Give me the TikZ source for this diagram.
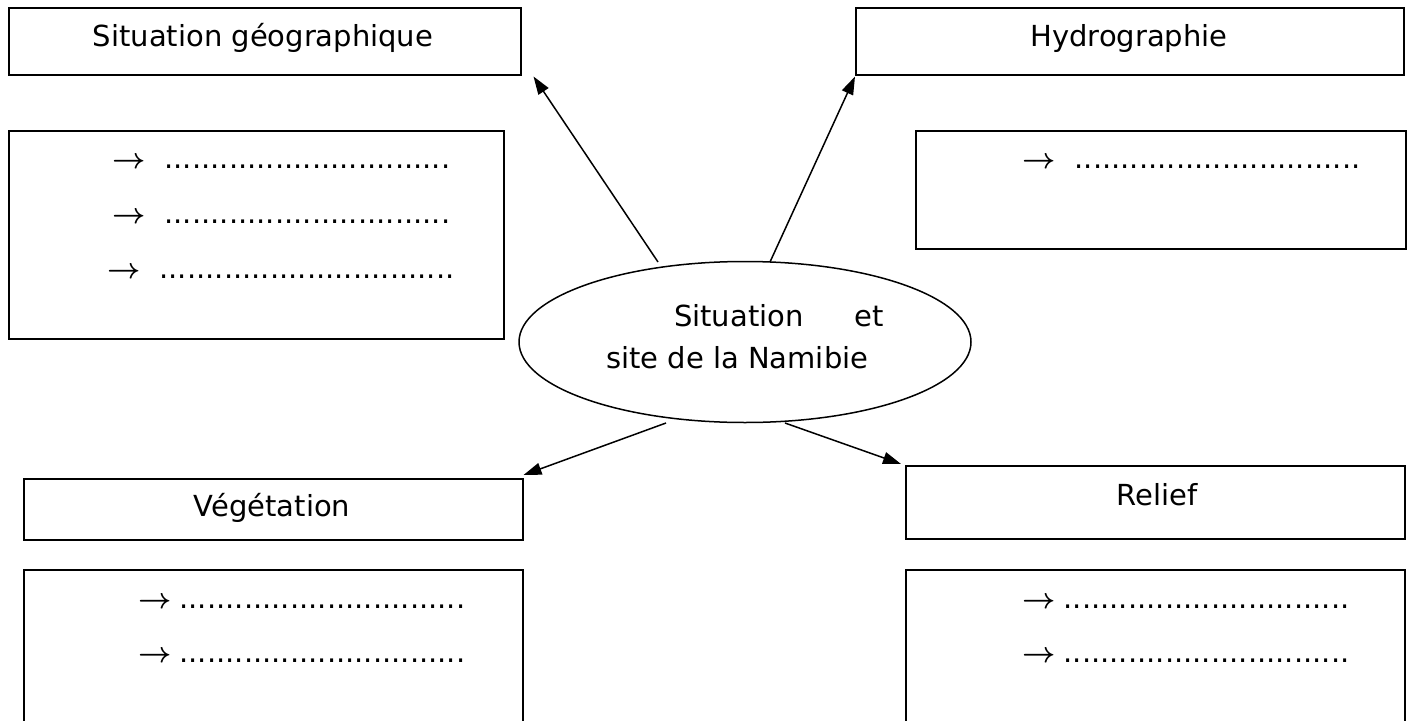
\RequirePackage{fix-cm}
\documentclass[tikz,border=0pt]{standalone}
\usepackage{fontspec}
\setmainfont{DejaVu Sans}
\usetikzlibrary{shapes.geometric,arrows.meta}
\newcommand{\dotrow}[1]{\foreach \k in {1,...,#1}{.}}
\newcommand{\itemarrow}{{\boldmath$\rightarrow$}}
\begin{document}
\begin{tikzpicture}[x=1pt,y=-1pt,
  box/.style={draw,line width=1.5pt,rectangle,inner sep=0pt,anchor=north west},
  lbl/.style={font=\fontsize{29}{42}\selectfont,inner sep=0pt},
  item/.style={font=\fontsize{29}{42}\selectfont,inner sep=0pt,anchor=west},
  arr/.style={line width=1.5pt,-{Triangle[length=18pt,width=12pt]}}]
\useasboundingbox (0,0) rectangle (1415,720);
\clip (0,0) rectangle (1415,720);
% boxes
\node[box,minimum width=512pt,minimum height=67pt] (geo) at (8,7) {};
\node[box,minimum width=548pt,minimum height=67pt] (hyd) at (855,7) {};
\node[box,minimum width=495pt,minimum height=208pt] (geol) at (8,130) {};
\node[box,minimum width=490pt,minimum height=118pt] (hydl) at (915,130) {};
\node[box,minimum width=499pt,minimum height=61pt] (veg) at (23,478) {};
\node[box,minimum width=499pt,minimum height=73pt] (rel) at (905,465) {};
\node[box,minimum width=499pt,minimum height=170pt] (vegl) at (23,569) {};
\node[box,minimum width=499pt,minimum height=170pt] (rell) at (905,569) {};
% titles
\node[lbl] (geot) at (263,38) {Situation géographique};
\node[lbl] (hydt) at (1129,38) {Hydrographie};
\node[lbl] (vegt) at (272,508) {Végétation};
\node[lbl] (relt) at (1157,495) {Relief};
% ellipse
\node[draw,ellipse,line width=1.5pt,minimum width=452pt,minimum height=161pt,inner sep=0pt] (c) at (745,342) {};
\node[lbl,align=left] (ct) at (745,337) {\hspace*{68pt}Situation\hspace{51pt}et\\site de la Namibie};
% list items
\node[item] (g1) at (112,163) {\itemarrow\hspace{19pt}\dotrow{31}};
\node[item] (g2) at (112,218) {\itemarrow\hspace{19pt}\dotrow{31}};
\node[item] (g3) at (107,273) {\itemarrow\hspace{19pt}\dotrow{32}};
\node[item] (h1) at (1022,163) {\itemarrow\hspace{19pt}\dotrow{31}};
\node[item] (v1) at (138,603) {\itemarrow\hspace{8pt}\dotrow{31}};
\node[item] (v2) at (138,657) {\itemarrow\hspace{8pt}\dotrow{31}};
\node[item] (r1) at (1022,603) {\itemarrow\hspace{8pt}\dotrow{31}};
\node[item] (r2) at (1022,657) {\itemarrow\hspace{8pt}\dotrow{31}};
% connectors
\coordinate (t1) at (658,262);
\coordinate (t2) at (770,262);
\coordinate (t3) at (666,423);
\coordinate (t4) at (785,423);
\draw[arr] (t1) -- ([shift={(12,1)}]geo.south east);
\draw[arr] (t2) -- ([shift={(0,1)}]hyd.south west);
\draw[arr] (t3) -- ([shift={(0,-3)}]veg.north east);
\draw[arr] (t4) -- ([shift={(-4,-1)}]rel.north west);
\end{tikzpicture}
\end{document}
